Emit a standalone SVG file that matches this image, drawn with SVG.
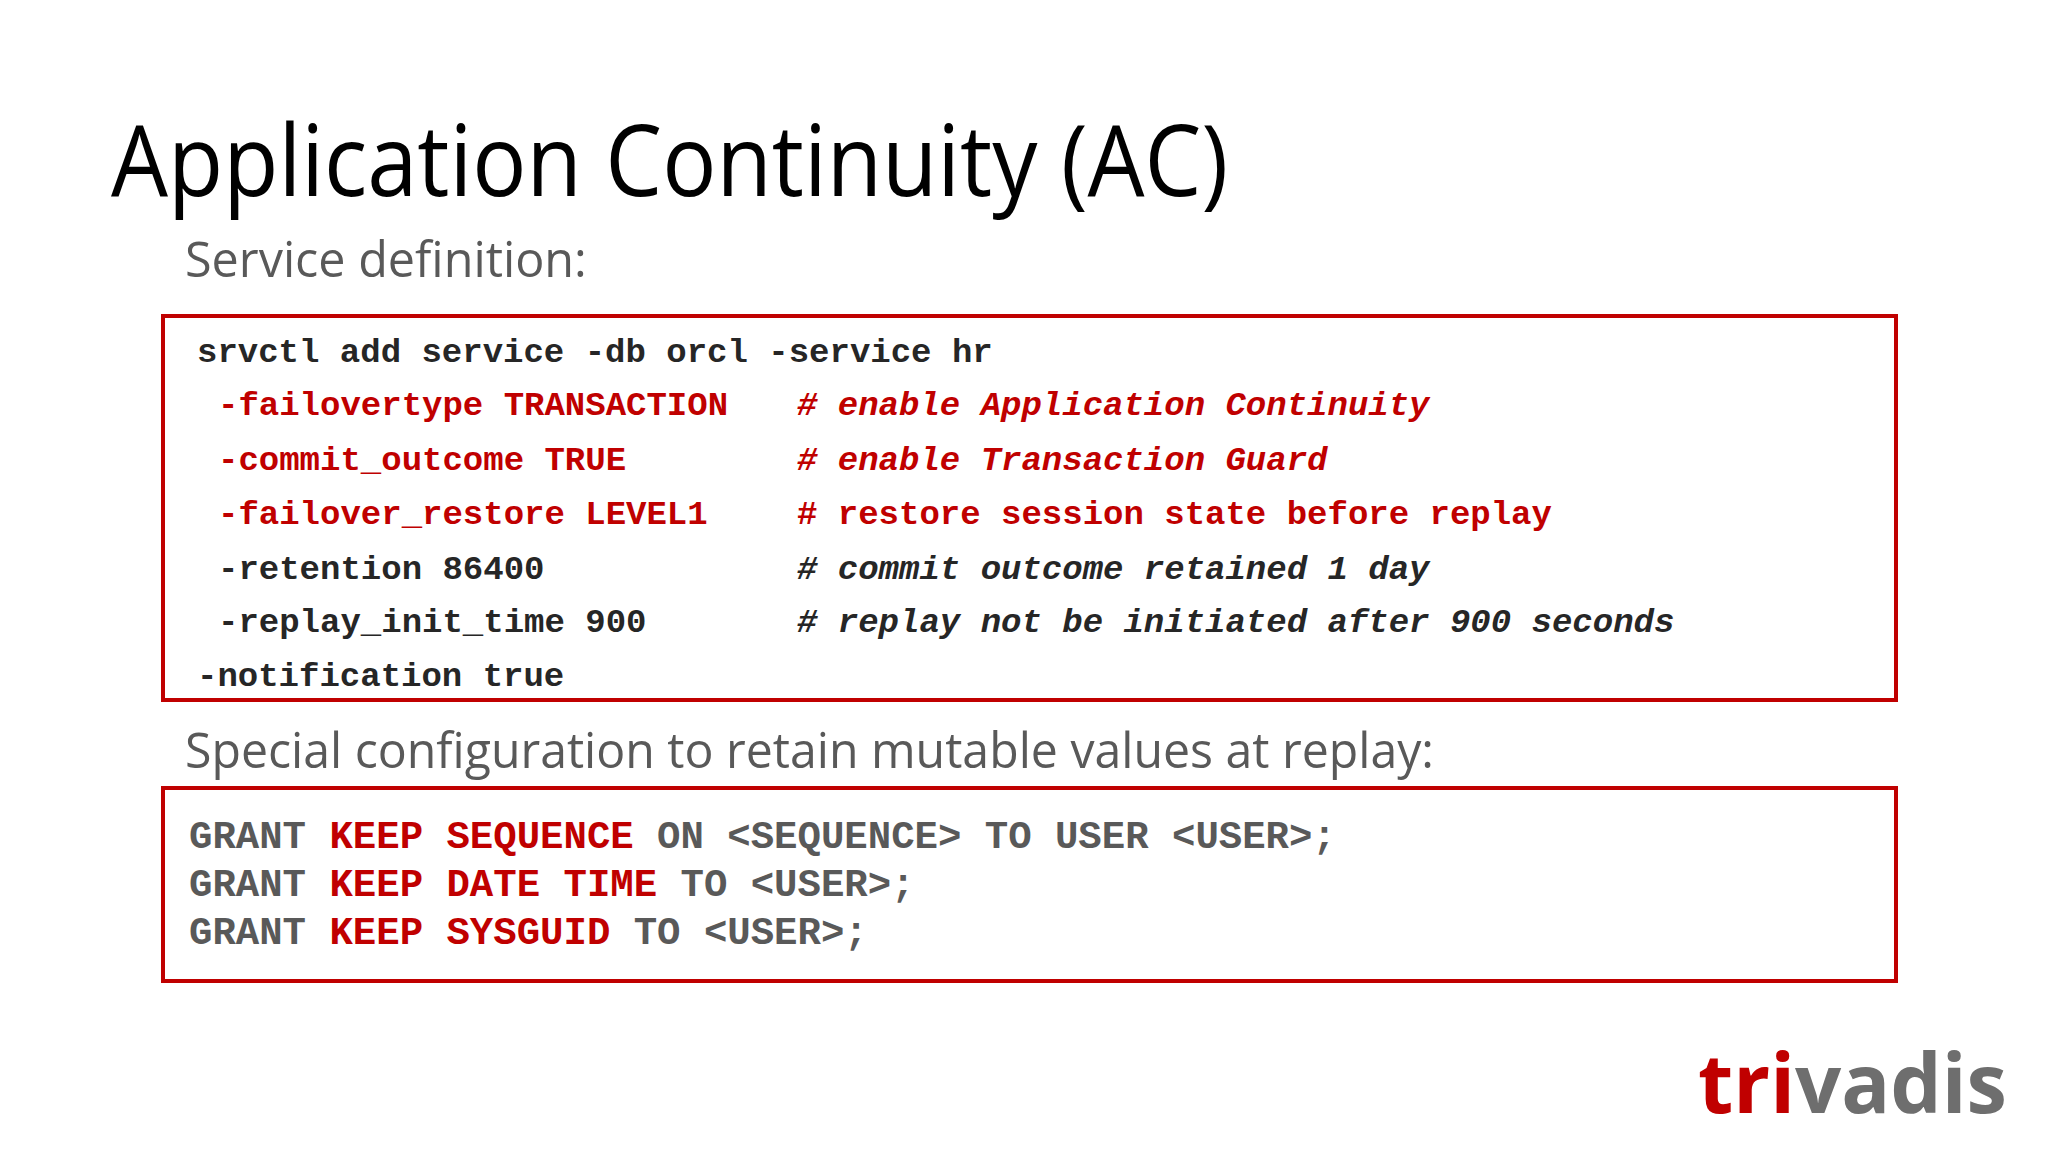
<svg xmlns="http://www.w3.org/2000/svg" width="2048" height="1152" viewBox="0 0 2048 1152">
<style>
.code{font-family:"Liberation Mono",monospace;font-weight:bold;font-size:34px;fill:#262626;white-space:pre}
.r{fill:#c00000}
.it{font-style:italic}
.g2{font-family:"Liberation Mono",monospace;font-weight:bold;font-size:39px;fill:#595959;white-space:pre}
.sub{font-family:"Open Sans","Noto Sans",sans-serif;font-size:48.5px;fill:#595959}
.box{fill:none;stroke:#c00000;stroke-width:4}
</style>
<rect width="2048" height="1152" fill="#fff"/>
<g id="title"><text x="111" y="196" font-family="Open Sans, Noto Sans, sans-serif" font-size="98" fill="#000" textLength="1117" lengthAdjust="spacingAndGlyphs">Application Continuity (AC)</text></g>
<g id="sub1"><text class="sub" x="185" y="277">Service definition:</text></g>
<g id="box1">
<rect class="box" x="163" y="316" width="1733" height="384"/>
<text class="code" x="197" y="362">srvctl add service -db orcl -service hr</text>
<text class="code r" x="218" y="415">-failovertype TRANSACTION</text>
<text class="code r it" x="797" y="415"># enable Application Continuity</text>
<text class="code r" x="218" y="470">-commit_outcome TRUE</text>
<text class="code r it" x="797" y="470"># enable Transaction Guard</text>
<text class="code r" x="218" y="524">-failover_restore LEVEL1</text>
<text class="code r" x="797" y="524"># restore session state before replay</text>
<text class="code" x="218" y="579">-retention 86400</text>
<text class="code it" x="797" y="579"># commit outcome retained 1 day</text>
<text class="code" x="218" y="632">-replay_init_time 900</text>
<text class="code it" x="797" y="632"># replay not be initiated after 900 seconds</text>
<text class="code" x="197" y="686">-notification true</text>
</g>
<g id="sub2"><text class="sub" x="185" y="768" textLength="1249" lengthAdjust="spacingAndGlyphs">Special configuration to retain mutable values at replay:</text></g>
<g id="box2">
<rect class="box" x="163" y="788" width="1733" height="193"/>
<text class="g2" x="189" y="848">GRANT <tspan class="r">KEEP SEQUENCE</tspan> ON &lt;SEQUENCE&gt; TO USER &lt;USER&gt;;</text>
<text class="g2" x="189" y="896">GRANT <tspan class="r">KEEP DATE TIME</tspan> TO &lt;USER&gt;;</text>
<text class="g2" x="189" y="944">GRANT <tspan class="r">KEEP SYSGUID</tspan> TO &lt;USER&gt;;</text>
</g>
<g id="logo"><text x="1698" y="1113" font-family="Open Sans, sans-serif" font-weight="bold" font-size="82" fill="#6e6e6e" textLength="309" lengthAdjust="spacingAndGlyphs"><tspan fill="#c00000">tri</tspan>vadis</text></g>
</svg>
